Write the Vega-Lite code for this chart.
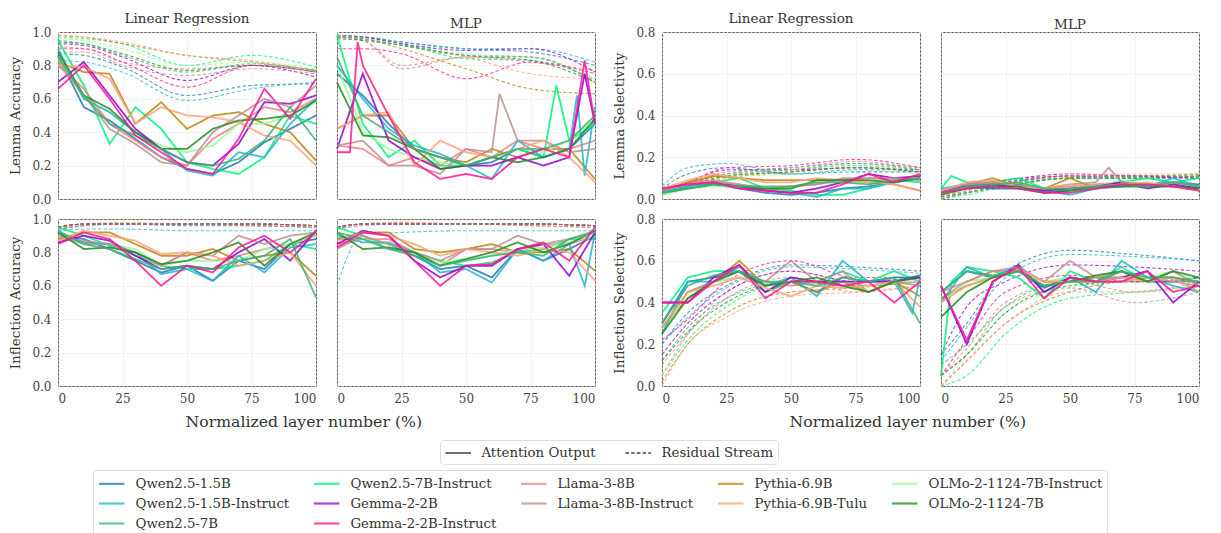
{
"$schema":"https://vega.github.io/schema/vega-lite/v6.json",
"padding":{"left":8,"top":11,"right":5,"bottom":5},
"config":{
 "font":"DejaVu Serif",
 "view":{"stroke":"#555","strokeWidth":1},
 "axis":{"grid":true,"gridColor":"#e3e3e3","gridDash":[2,2],"gridWidth":0.8,"domain":false,"ticks":false,"labelFontSize":12,"labelColor":"#444","labelPadding":7,"titleFontSize":13.5,"titleFontWeight":"normal","titleColor":"#333","titlePadding":9},
 "title":{"fontSize":13.5,"fontWeight":"normal","color":"#333","offset":1},
 "legend":{"labelFontSize":13.3,"labelColor":"#333","labelLimit":400,"symbolType":"M-1,0H2.4","symbolSize":225,"labelOffset":20,"strokeColor":"#ddd","cornerRadius":3,"padding":4.5},
 "range":{"category":["#1f77b4","#98fb98","#ffa07a","#00f27a","#1fb4d2","#228b22","#f08080","#9400d3","#3cb371","#b8860b","#bc8f8f","#ff1493"]}
},
"datasets":{
"la":[
{"m":"a","x":0,"y":0.86},{"m":"a","x":10,"y":0.55},{"m":"a","x":20,"y":0.47},{"m":"a","x":30,"y":0.36},{"m":"a","x":40,"y":0.25},{"m":"a","x":50,"y":0.18},{"m":"a","x":60,"y":0.15},{"m":"a","x":70,"y":0.22},{"m":"a","x":80,"y":0.34},{"m":"a","x":90,"y":0.42},{"m":"a","x":100,"y":0.5},
{"m":"b","x":0,"y":0.95},{"m":"b","x":10,"y":0.68},{"m":"b","x":20,"y":0.33},{"m":"b","x":30,"y":0.55},{"m":"b","x":40,"y":0.42},{"m":"b","x":50,"y":0.22},{"m":"b","x":60,"y":0.18},{"m":"b","x":70,"y":0.15},{"m":"b","x":80,"y":0.25},{"m":"b","x":90,"y":0.5},{"m":"b","x":100,"y":0.45},
{"m":"c","x":0,"y":0.8},{"m":"c","x":10,"y":0.66},{"m":"c","x":20,"y":0.45},{"m":"c","x":30,"y":0.35},{"m":"c","x":40,"y":0.25},{"m":"c","x":50,"y":0.2},{"m":"c","x":60,"y":0.36},{"m":"c","x":70,"y":0.45},{"m":"c","x":80,"y":0.55},{"m":"c","x":90,"y":0.52},{"m":"c","x":100,"y":0.6},
{"m":"d","x":0,"y":0.82},{"m":"d","x":10,"y":0.76},{"m":"d","x":20,"y":0.75},{"m":"d","x":30,"y":0.45},{"m":"d","x":40,"y":0.58},{"m":"d","x":50,"y":0.42},{"m":"d","x":60,"y":0.5},{"m":"d","x":70,"y":0.52},{"m":"d","x":80,"y":0.45},{"m":"d","x":90,"y":0.4},{"m":"d","x":100,"y":0.23},
{"m":"e","x":0,"y":0.85},{"m":"e","x":10,"y":0.6},{"m":"e","x":20,"y":0.52},{"m":"e","x":30,"y":0.4},{"m":"e","x":40,"y":0.32},{"m":"e","x":50,"y":0.28},{"m":"e","x":60,"y":0.32},{"m":"e","x":70,"y":0.45},{"m":"e","x":80,"y":0.45},{"m":"e","x":90,"y":0.5},{"m":"e","x":100,"y":0.58},
{"m":"f","x":0,"y":0.9},{"m":"f","x":10,"y":0.6},{"m":"f","x":20,"y":0.52},{"m":"f","x":30,"y":0.4},{"m":"f","x":40,"y":0.3},{"m":"f","x":50,"y":0.17},{"m":"f","x":60,"y":0.14},{"m":"f","x":70,"y":0.28},{"m":"f","x":80,"y":0.25},{"m":"f","x":90,"y":0.45},{"m":"f","x":100,"y":0.6},
{"m":"g","x":0,"y":0.7},{"m":"g","x":10,"y":0.82},{"m":"g","x":20,"y":0.62},{"m":"g","x":30,"y":0.42},{"m":"g","x":40,"y":0.3},{"m":"g","x":50,"y":0.22},{"m":"g","x":60,"y":0.2},{"m":"g","x":70,"y":0.33},{"m":"g","x":80,"y":0.58},{"m":"g","x":90,"y":0.57},{"m":"g","x":100,"y":0.62},
{"m":"h","x":0,"y":0.82},{"m":"h","x":10,"y":0.62},{"m":"h","x":20,"y":0.42},{"m":"h","x":30,"y":0.33},{"m":"h","x":40,"y":0.22},{"m":"h","x":50,"y":0.2},{"m":"h","x":60,"y":0.4},{"m":"h","x":70,"y":0.5},{"m":"h","x":80,"y":0.6},{"m":"h","x":90,"y":0.55},{"m":"h","x":100,"y":0.68},
{"m":"i","x":0,"y":0.8},{"m":"i","x":10,"y":0.79},{"m":"i","x":20,"y":0.72},{"m":"i","x":30,"y":0.45},{"m":"i","x":40,"y":0.55},{"m":"i","x":50,"y":0.5},{"m":"i","x":60,"y":0.49},{"m":"i","x":70,"y":0.46},{"m":"i","x":80,"y":0.38},{"m":"i","x":90,"y":0.35},{"m":"i","x":100,"y":0.2},
{"m":"j","x":0,"y":0.88},{"m":"j","x":10,"y":0.62},{"m":"j","x":20,"y":0.54},{"m":"j","x":30,"y":0.4},{"m":"j","x":40,"y":0.3},{"m":"j","x":50,"y":0.3},{"m":"j","x":60,"y":0.42},{"m":"j","x":70,"y":0.47},{"m":"j","x":80,"y":0.48},{"m":"j","x":90,"y":0.5},{"m":"j","x":100,"y":0.59},
{"m":"k","x":0,"y":0.85},{"m":"k","x":10,"y":0.62},{"m":"k","x":20,"y":0.45},{"m":"k","x":30,"y":0.38},{"m":"k","x":40,"y":0.3},{"m":"k","x":50,"y":0.22},{"m":"k","x":60,"y":0.2},{"m":"k","x":70,"y":0.24},{"m":"k","x":80,"y":0.35},{"m":"k","x":90,"y":0.55},{"m":"k","x":100,"y":0.35},
{"m":"l","x":0,"y":0.66},{"m":"l","x":10,"y":0.8},{"m":"l","x":20,"y":0.6},{"m":"l","x":30,"y":0.38},{"m":"l","x":40,"y":0.28},{"m":"l","x":50,"y":0.18},{"m":"l","x":60,"y":0.15},{"m":"l","x":70,"y":0.36},{"m":"l","x":80,"y":0.66},{"m":"l","x":90,"y":0.48},{"m":"l","x":100,"y":0.72}
],
"lad":[
{"m":"a","x":0,"y":0.87},{"m":"a","x":10,"y":0.86},{"m":"a","x":25,"y":0.79},{"m":"a","x":50,"y":0.62},{"m":"a","x":75,"y":0.68},{"m":"a","x":100,"y":0.69},
{"m":"b","x":0,"y":0.97},{"m":"b","x":10,"y":0.96},{"m":"b","x":25,"y":0.93},{"m":"b","x":50,"y":0.8},{"m":"b","x":75,"y":0.86},{"m":"b","x":100,"y":0.79},
{"m":"c","x":0,"y":0.91},{"m":"c","x":10,"y":0.9},{"m":"c","x":25,"y":0.82},{"m":"c","x":50,"y":0.78},{"m":"c","x":75,"y":0.8},{"m":"c","x":100,"y":0.77},
{"m":"d","x":0,"y":0.98},{"m":"d","x":10,"y":0.97},{"m":"d","x":25,"y":0.93},{"m":"d","x":50,"y":0.86},{"m":"d","x":75,"y":0.82},{"m":"d","x":100,"y":0.77},
{"m":"e","x":0,"y":0.96},{"m":"e","x":10,"y":0.95},{"m":"e","x":25,"y":0.9},{"m":"e","x":50,"y":0.8},{"m":"e","x":75,"y":0.82},{"m":"e","x":100,"y":0.78},
{"m":"f","x":0,"y":0.83},{"m":"f","x":10,"y":0.82},{"m":"f","x":25,"y":0.76},{"m":"f","x":50,"y":0.59},{"m":"f","x":75,"y":0.66},{"m":"f","x":100,"y":0.7},
{"m":"g","x":0,"y":0.93},{"m":"g","x":10,"y":0.92},{"m":"g","x":25,"y":0.85},{"m":"g","x":50,"y":0.71},{"m":"g","x":75,"y":0.8},{"m":"g","x":100,"y":0.73},
{"m":"h","x":0,"y":0.88},{"m":"h","x":10,"y":0.88},{"m":"h","x":25,"y":0.8},{"m":"h","x":50,"y":0.74},{"m":"h","x":75,"y":0.78},{"m":"h","x":100,"y":0.75},
{"m":"i","x":0,"y":0.98},{"m":"i","x":10,"y":0.97},{"m":"i","x":25,"y":0.94},{"m":"i","x":50,"y":0.86},{"m":"i","x":75,"y":0.83},{"m":"i","x":100,"y":0.76},
{"m":"j","x":0,"y":0.94},{"m":"j","x":10,"y":0.93},{"m":"j","x":25,"y":0.87},{"m":"j","x":50,"y":0.77},{"m":"j","x":75,"y":0.8},{"m":"j","x":100,"y":0.76},
{"m":"k","x":0,"y":0.95},{"m":"k","x":10,"y":0.93},{"m":"k","x":25,"y":0.86},{"m":"k","x":50,"y":0.76},{"m":"k","x":75,"y":0.81},{"m":"k","x":100,"y":0.77},
{"m":"l","x":0,"y":0.9},{"m":"l","x":10,"y":0.9},{"m":"l","x":25,"y":0.82},{"m":"l","x":50,"y":0.67},{"m":"l","x":75,"y":0.8},{"m":"l","x":100,"y":0.76}
],
"lm":[
{"m":"a","x":0,"y":0.75},{"m":"a","x":10,"y":0.62},{"m":"a","x":20,"y":0.45},{"m":"a","x":30,"y":0.3},{"m":"a","x":40,"y":0.25},{"m":"a","x":50,"y":0.2},{"m":"a","x":60,"y":0.22},{"m":"a","x":70,"y":0.3},{"m":"a","x":80,"y":0.25},{"m":"a","x":90,"y":0.3},{"m":"a","x":100,"y":0.45},
{"m":"b","x":0,"y":0.98},{"m":"b","x":10,"y":0.45},{"m":"b","x":20,"y":0.25},{"m":"b","x":30,"y":0.35},{"m":"b","x":40,"y":0.2},{"m":"b","x":50,"y":0.2},{"m":"b","x":60,"y":0.25},{"m":"b","x":70,"y":0.3},{"m":"b","x":80,"y":0.25},{"m":"b","x":85,"y":0.68},{"m":"b","x":90,"y":0.35},{"m":"b","x":100,"y":0.45},
{"m":"c","x":0,"y":0.32},{"m":"c","x":10,"y":0.3},{"m":"c","x":20,"y":0.2},{"m":"c","x":30,"y":0.25},{"m":"c","x":40,"y":0.2},{"m":"c","x":50,"y":0.3},{"m":"c","x":60,"y":0.25},{"m":"c","x":70,"y":0.35},{"m":"c","x":80,"y":0.3},{"m":"c","x":90,"y":0.3},{"m":"c","x":100,"y":0.35},
{"m":"d","x":0,"y":0.42},{"m":"d","x":10,"y":0.5},{"m":"d","x":20,"y":0.5},{"m":"d","x":30,"y":0.3},{"m":"d","x":40,"y":0.25},{"m":"d","x":50,"y":0.22},{"m":"d","x":60,"y":0.3},{"m":"d","x":70,"y":0.25},{"m":"d","x":80,"y":0.3},{"m":"d","x":90,"y":0.3},{"m":"d","x":100,"y":0.12},
{"m":"e","x":0,"y":0.8},{"m":"e","x":10,"y":0.4},{"m":"e","x":20,"y":0.3},{"m":"e","x":30,"y":0.25},{"m":"e","x":40,"y":0.22},{"m":"e","x":50,"y":0.2},{"m":"e","x":60,"y":0.25},{"m":"e","x":70,"y":0.3},{"m":"e","x":80,"y":0.28},{"m":"e","x":90,"y":0.35},{"m":"e","x":100,"y":0.48},
{"m":"f","x":0,"y":0.8},{"m":"f","x":10,"y":0.6},{"m":"f","x":20,"y":0.42},{"m":"f","x":30,"y":0.32},{"m":"f","x":40,"y":0.27},{"m":"f","x":50,"y":0.2},{"m":"f","x":60,"y":0.12},{"m":"f","x":70,"y":0.35},{"m":"f","x":80,"y":0.25},{"m":"f","x":90,"y":0.3},{"m":"f","x":93,"y":0.62},{"m":"f","x":96,"y":0.14},{"m":"f","x":100,"y":0.55},
{"m":"g","x":0,"y":0.3},{"m":"g","x":10,"y":0.75},{"m":"g","x":20,"y":0.35},{"m":"g","x":30,"y":0.25},{"m":"g","x":40,"y":0.18},{"m":"g","x":50,"y":0.2},{"m":"g","x":60,"y":0.2},{"m":"g","x":70,"y":0.25},{"m":"g","x":80,"y":0.2},{"m":"g","x":90,"y":0.25},{"m":"g","x":96,"y":0.75},{"m":"g","x":100,"y":0.45},
{"m":"h","x":0,"y":0.32},{"m":"h","x":10,"y":0.35},{"m":"h","x":20,"y":0.2},{"m":"h","x":30,"y":0.2},{"m":"h","x":40,"y":0.15},{"m":"h","x":50,"y":0.3},{"m":"h","x":60,"y":0.28},{"m":"h","x":63,"y":0.63},{"m":"h","x":70,"y":0.35},{"m":"h","x":80,"y":0.35},{"m":"h","x":90,"y":0.28},{"m":"h","x":100,"y":0.3},
{"m":"i","x":0,"y":0.42},{"m":"i","x":10,"y":0.5},{"m":"i","x":20,"y":0.52},{"m":"i","x":30,"y":0.2},{"m":"i","x":40,"y":0.35},{"m":"i","x":50,"y":0.28},{"m":"i","x":60,"y":0.25},{"m":"i","x":70,"y":0.3},{"m":"i","x":80,"y":0.35},{"m":"i","x":90,"y":0.25},{"m":"i","x":100,"y":0.1},
{"m":"j","x":0,"y":0.7},{"m":"j","x":10,"y":0.38},{"m":"j","x":20,"y":0.37},{"m":"j","x":30,"y":0.3},{"m":"j","x":40,"y":0.18},{"m":"j","x":50,"y":0.2},{"m":"j","x":60,"y":0.25},{"m":"j","x":70,"y":0.22},{"m":"j","x":80,"y":0.25},{"m":"j","x":90,"y":0.3},{"m":"j","x":100,"y":0.48},
{"m":"k","x":0,"y":0.85},{"m":"k","x":10,"y":0.5},{"m":"k","x":20,"y":0.4},{"m":"k","x":30,"y":0.3},{"m":"k","x":40,"y":0.25},{"m":"k","x":50,"y":0.2},{"m":"k","x":60,"y":0.25},{"m":"k","x":70,"y":0.3},{"m":"k","x":80,"y":0.3},{"m":"k","x":90,"y":0.35},{"m":"k","x":100,"y":0.5},
{"m":"l","x":0,"y":0.28},{"m":"l","x":5,"y":0.28},{"m":"l","x":8,"y":0.94},{"m":"l","x":10,"y":0.8},{"m":"l","x":20,"y":0.5},{"m":"l","x":30,"y":0.22},{"m":"l","x":40,"y":0.12},{"m":"l","x":50,"y":0.15},{"m":"l","x":60,"y":0.12},{"m":"l","x":70,"y":0.25},{"m":"l","x":80,"y":0.3},{"m":"l","x":90,"y":0.25},{"m":"l","x":96,"y":0.83},{"m":"l","x":100,"y":0.45}
],
"lmd":[
{"m":"a","x":0,"y":0.98},{"m":"a","x":10,"y":0.97},{"m":"a","x":25,"y":0.94},{"m":"a","x":50,"y":0.9},{"m":"a","x":75,"y":0.88},{"m":"a","x":100,"y":0.8},
{"m":"b","x":0,"y":0.98},{"m":"b","x":10,"y":0.97},{"m":"b","x":25,"y":0.93},{"m":"b","x":50,"y":0.84},{"m":"b","x":75,"y":0.83},{"m":"b","x":100,"y":0.72},
{"m":"c","x":0,"y":0.97},{"m":"c","x":10,"y":0.95},{"m":"c","x":25,"y":0.8},{"m":"c","x":50,"y":0.85},{"m":"c","x":75,"y":0.82},{"m":"c","x":100,"y":0.77},
{"m":"d","x":0,"y":0.97},{"m":"d","x":10,"y":0.96},{"m":"d","x":25,"y":0.9},{"m":"d","x":50,"y":0.78},{"m":"d","x":75,"y":0.66},{"m":"d","x":100,"y":0.63},
{"m":"e","x":0,"y":0.98},{"m":"e","x":10,"y":0.97},{"m":"e","x":25,"y":0.93},{"m":"e","x":50,"y":0.87},{"m":"e","x":75,"y":0.85},{"m":"e","x":100,"y":0.72},
{"m":"f","x":0,"y":0.97},{"m":"f","x":10,"y":0.97},{"m":"f","x":25,"y":0.94},{"m":"f","x":50,"y":0.9},{"m":"f","x":75,"y":0.9},{"m":"f","x":100,"y":0.82},
{"m":"g","x":0,"y":0.98},{"m":"g","x":10,"y":0.97},{"m":"g","x":25,"y":0.93},{"m":"g","x":50,"y":0.89},{"m":"g","x":75,"y":0.9},{"m":"g","x":100,"y":0.76},
{"m":"h","x":0,"y":0.97},{"m":"h","x":10,"y":0.95},{"m":"h","x":25,"y":0.78},{"m":"h","x":50,"y":0.85},{"m":"h","x":75,"y":0.85},{"m":"h","x":100,"y":0.7},
{"m":"i","x":0,"y":0.98},{"m":"i","x":10,"y":0.96},{"m":"i","x":25,"y":0.92},{"m":"i","x":50,"y":0.85},{"m":"i","x":75,"y":0.75},{"m":"i","x":100,"y":0.72},
{"m":"j","x":0,"y":0.96},{"m":"j","x":10,"y":0.95},{"m":"j","x":25,"y":0.92},{"m":"j","x":50,"y":0.86},{"m":"j","x":75,"y":0.83},{"m":"j","x":100,"y":0.7},
{"m":"k","x":0,"y":0.97},{"m":"k","x":10,"y":0.96},{"m":"k","x":25,"y":0.92},{"m":"k","x":50,"y":0.86},{"m":"k","x":75,"y":0.85},{"m":"k","x":100,"y":0.7},
{"m":"l","x":0,"y":0.9},{"m":"l","x":10,"y":0.9},{"m":"l","x":25,"y":0.87},{"m":"l","x":50,"y":0.72},{"m":"l","x":75,"y":0.82},{"m":"l","x":100,"y":0.75}
],
"ia":[
{"m":"a","x":0,"y":0.9},{"m":"a","x":10,"y":0.88},{"m":"a","x":20,"y":0.82},{"m":"a","x":30,"y":0.75},{"m":"a","x":40,"y":0.68},{"m":"a","x":50,"y":0.72},{"m":"a","x":60,"y":0.63},{"m":"a","x":70,"y":0.75},{"m":"a","x":80,"y":0.7},{"m":"a","x":90,"y":0.85},{"m":"a","x":100,"y":0.88},
{"m":"b","x":0,"y":0.95},{"m":"b","x":10,"y":0.9},{"m":"b","x":20,"y":0.84},{"m":"b","x":30,"y":0.78},{"m":"b","x":40,"y":0.72},{"m":"b","x":50,"y":0.7},{"m":"b","x":60,"y":0.7},{"m":"b","x":70,"y":0.72},{"m":"b","x":80,"y":0.75},{"m":"b","x":90,"y":0.85},{"m":"b","x":100,"y":0.82},
{"m":"c","x":0,"y":0.88},{"m":"c","x":10,"y":0.87},{"m":"c","x":20,"y":0.85},{"m":"c","x":30,"y":0.8},{"m":"c","x":40,"y":0.72},{"m":"c","x":50,"y":0.8},{"m":"c","x":60,"y":0.75},{"m":"c","x":70,"y":0.78},{"m":"c","x":80,"y":0.82},{"m":"c","x":90,"y":0.85},{"m":"c","x":100,"y":0.9},
{"m":"d","x":0,"y":0.88},{"m":"d","x":10,"y":0.92},{"m":"d","x":20,"y":0.92},{"m":"d","x":30,"y":0.85},{"m":"d","x":40,"y":0.78},{"m":"d","x":50,"y":0.78},{"m":"d","x":60,"y":0.82},{"m":"d","x":70,"y":0.75},{"m":"d","x":80,"y":0.78},{"m":"d","x":90,"y":0.8},{"m":"d","x":100,"y":0.66},
{"m":"e","x":0,"y":0.9},{"m":"e","x":10,"y":0.86},{"m":"e","x":20,"y":0.85},{"m":"e","x":30,"y":0.82},{"m":"e","x":40,"y":0.72},{"m":"e","x":50,"y":0.75},{"m":"e","x":60,"y":0.75},{"m":"e","x":70,"y":0.75},{"m":"e","x":80,"y":0.82},{"m":"e","x":90,"y":0.85},{"m":"e","x":100,"y":0.9},
{"m":"f","x":0,"y":0.92},{"m":"f","x":10,"y":0.86},{"m":"f","x":20,"y":0.85},{"m":"f","x":30,"y":0.8},{"m":"f","x":40,"y":0.67},{"m":"f","x":50,"y":0.7},{"m":"f","x":60,"y":0.63},{"m":"f","x":70,"y":0.78},{"m":"f","x":80,"y":0.68},{"m":"f","x":90,"y":0.83},{"m":"f","x":100,"y":0.85},
{"m":"g","x":0,"y":0.86},{"m":"g","x":10,"y":0.9},{"m":"g","x":20,"y":0.87},{"m":"g","x":30,"y":0.78},{"m":"g","x":40,"y":0.7},{"m":"g","x":50,"y":0.72},{"m":"g","x":60,"y":0.7},{"m":"g","x":70,"y":0.8},{"m":"g","x":80,"y":0.88},{"m":"g","x":90,"y":0.75},{"m":"g","x":100,"y":0.93},
{"m":"h","x":0,"y":0.9},{"m":"h","x":10,"y":0.85},{"m":"h","x":20,"y":0.85},{"m":"h","x":30,"y":0.8},{"m":"h","x":40,"y":0.72},{"m":"h","x":50,"y":0.8},{"m":"h","x":60,"y":0.78},{"m":"h","x":70,"y":0.9},{"m":"h","x":80,"y":0.85},{"m":"h","x":90,"y":0.9},{"m":"h","x":100,"y":0.92},
{"m":"i","x":0,"y":0.87},{"m":"i","x":10,"y":0.93},{"m":"i","x":20,"y":0.9},{"m":"i","x":30,"y":0.87},{"m":"i","x":40,"y":0.79},{"m":"i","x":50,"y":0.8},{"m":"i","x":60,"y":0.78},{"m":"i","x":70,"y":0.72},{"m":"i","x":80,"y":0.75},{"m":"i","x":90,"y":0.8},{"m":"i","x":100,"y":0.6},
{"m":"j","x":0,"y":0.92},{"m":"j","x":10,"y":0.82},{"m":"j","x":20,"y":0.83},{"m":"j","x":30,"y":0.8},{"m":"j","x":40,"y":0.73},{"m":"j","x":50,"y":0.75},{"m":"j","x":60,"y":0.8},{"m":"j","x":70,"y":0.86},{"m":"j","x":80,"y":0.72},{"m":"j","x":90,"y":0.85},{"m":"j","x":100,"y":0.92},
{"m":"k","x":0,"y":0.93},{"m":"k","x":10,"y":0.85},{"m":"k","x":20,"y":0.82},{"m":"k","x":30,"y":0.76},{"m":"k","x":40,"y":0.7},{"m":"k","x":50,"y":0.72},{"m":"k","x":60,"y":0.7},{"m":"k","x":70,"y":0.75},{"m":"k","x":80,"y":0.78},{"m":"k","x":90,"y":0.88},{"m":"k","x":100,"y":0.53},
{"m":"l","x":0,"y":0.85},{"m":"l","x":10,"y":0.92},{"m":"l","x":20,"y":0.88},{"m":"l","x":30,"y":0.75},{"m":"l","x":40,"y":0.6},{"m":"l","x":50,"y":0.72},{"m":"l","x":60,"y":0.68},{"m":"l","x":70,"y":0.83},{"m":"l","x":80,"y":0.9},{"m":"l","x":90,"y":0.8},{"m":"l","x":100,"y":0.92}
],
"iad":[
{"m":"a","x":0,"y":0.94},{"m":"a","x":10,"y":0.96},{"m":"a","x":25,"y":0.97},{"m":"a","x":50,"y":0.96},{"m":"a","x":75,"y":0.96},{"m":"a","x":100,"y":0.95},
{"m":"b","x":0,"y":0.95},{"m":"b","x":10,"y":0.97},{"m":"b","x":25,"y":0.97},{"m":"b","x":50,"y":0.97},{"m":"b","x":75,"y":0.97},{"m":"b","x":100,"y":0.96},
{"m":"c","x":0,"y":0.95},{"m":"c","x":10,"y":0.97},{"m":"c","x":25,"y":0.97},{"m":"c","x":50,"y":0.97},{"m":"c","x":75,"y":0.97},{"m":"c","x":100,"y":0.96},
{"m":"d","x":0,"y":0.94},{"m":"d","x":10,"y":0.96},{"m":"d","x":25,"y":0.97},{"m":"d","x":50,"y":0.97},{"m":"d","x":75,"y":0.96},{"m":"d","x":100,"y":0.95},
{"m":"e","x":0,"y":0.95},{"m":"e","x":10,"y":0.97},{"m":"e","x":25,"y":0.97},{"m":"e","x":50,"y":0.97},{"m":"e","x":75,"y":0.97},{"m":"e","x":100,"y":0.96},
{"m":"f","x":0,"y":0.93},{"m":"f","x":10,"y":0.94},{"m":"f","x":25,"y":0.94},{"m":"f","x":50,"y":0.93},{"m":"f","x":75,"y":0.93},{"m":"f","x":100,"y":0.93},
{"m":"g","x":0,"y":0.95},{"m":"g","x":10,"y":0.97},{"m":"g","x":25,"y":0.97},{"m":"g","x":50,"y":0.97},{"m":"g","x":75,"y":0.97},{"m":"g","x":100,"y":0.96},
{"m":"h","x":0,"y":0.94},{"m":"h","x":10,"y":0.96},{"m":"h","x":25,"y":0.97},{"m":"h","x":50,"y":0.97},{"m":"h","x":75,"y":0.96},{"m":"h","x":100,"y":0.95},
{"m":"i","x":0,"y":0.94},{"m":"i","x":10,"y":0.97},{"m":"i","x":25,"y":0.98},{"m":"i","x":50,"y":0.97},{"m":"i","x":75,"y":0.97},{"m":"i","x":100,"y":0.96},
{"m":"j","x":0,"y":0.95},{"m":"j","x":10,"y":0.97},{"m":"j","x":25,"y":0.97},{"m":"j","x":50,"y":0.97},{"m":"j","x":75,"y":0.97},{"m":"j","x":100,"y":0.96},
{"m":"k","x":0,"y":0.95},{"m":"k","x":10,"y":0.97},{"m":"k","x":25,"y":0.97},{"m":"k","x":50,"y":0.97},{"m":"k","x":75,"y":0.97},{"m":"k","x":100,"y":0.96},
{"m":"l","x":0,"y":0.95},{"m":"l","x":10,"y":0.97},{"m":"l","x":25,"y":0.97},{"m":"l","x":50,"y":0.97},{"m":"l","x":75,"y":0.97},{"m":"l","x":100,"y":0.96}
],
"im":[
{"m":"a","x":0,"y":0.88},{"m":"a","x":10,"y":0.88},{"m":"a","x":20,"y":0.85},{"m":"a","x":30,"y":0.78},{"m":"a","x":40,"y":0.7},{"m":"a","x":50,"y":0.72},{"m":"a","x":60,"y":0.65},{"m":"a","x":70,"y":0.82},{"m":"a","x":80,"y":0.75},{"m":"a","x":90,"y":0.82},{"m":"a","x":100,"y":0.9},
{"m":"b","x":0,"y":0.95},{"m":"b","x":10,"y":0.9},{"m":"b","x":20,"y":0.82},{"m":"b","x":30,"y":0.8},{"m":"b","x":40,"y":0.75},{"m":"b","x":50,"y":0.72},{"m":"b","x":60,"y":0.74},{"m":"b","x":70,"y":0.8},{"m":"b","x":80,"y":0.82},{"m":"b","x":90,"y":0.88},{"m":"b","x":100,"y":0.88},
{"m":"c","x":0,"y":0.85},{"m":"c","x":10,"y":0.88},{"m":"c","x":20,"y":0.88},{"m":"c","x":30,"y":0.8},{"m":"c","x":40,"y":0.72},{"m":"c","x":50,"y":0.82},{"m":"c","x":60,"y":0.82},{"m":"c","x":70,"y":0.8},{"m":"c","x":80,"y":0.85},{"m":"c","x":90,"y":0.85},{"m":"c","x":100,"y":0.9},
{"m":"d","x":0,"y":0.88},{"m":"d","x":10,"y":0.92},{"m":"d","x":20,"y":0.92},{"m":"d","x":30,"y":0.82},{"m":"d","x":40,"y":0.8},{"m":"d","x":50,"y":0.82},{"m":"d","x":60,"y":0.85},{"m":"d","x":70,"y":0.8},{"m":"d","x":80,"y":0.8},{"m":"d","x":90,"y":0.82},{"m":"d","x":100,"y":0.69},
{"m":"e","x":0,"y":0.9},{"m":"e","x":10,"y":0.88},{"m":"e","x":20,"y":0.85},{"m":"e","x":30,"y":0.8},{"m":"e","x":40,"y":0.74},{"m":"e","x":50,"y":0.76},{"m":"e","x":60,"y":0.78},{"m":"e","x":70,"y":0.82},{"m":"e","x":80,"y":0.83},{"m":"e","x":90,"y":0.86},{"m":"e","x":100,"y":0.9},
{"m":"f","x":0,"y":0.9},{"m":"f","x":10,"y":0.86},{"m":"f","x":20,"y":0.86},{"m":"f","x":30,"y":0.8},{"m":"f","x":40,"y":0.68},{"m":"f","x":50,"y":0.7},{"m":"f","x":60,"y":0.62},{"m":"f","x":70,"y":0.82},{"m":"f","x":80,"y":0.75},{"m":"f","x":90,"y":0.85},{"m":"f","x":96,"y":0.6},{"m":"f","x":100,"y":0.92},
{"m":"g","x":0,"y":0.85},{"m":"g","x":10,"y":0.93},{"m":"g","x":20,"y":0.9},{"m":"g","x":30,"y":0.75},{"m":"g","x":40,"y":0.65},{"m":"g","x":50,"y":0.72},{"m":"g","x":60,"y":0.72},{"m":"g","x":70,"y":0.82},{"m":"g","x":80,"y":0.85},{"m":"g","x":90,"y":0.66},{"m":"g","x":100,"y":0.92},
{"m":"h","x":0,"y":0.82},{"m":"h","x":10,"y":0.9},{"m":"h","x":20,"y":0.85},{"m":"h","x":30,"y":0.8},{"m":"h","x":40,"y":0.75},{"m":"h","x":50,"y":0.82},{"m":"h","x":60,"y":0.82},{"m":"h","x":70,"y":0.9},{"m":"h","x":80,"y":0.85},{"m":"h","x":90,"y":0.88},{"m":"h","x":100,"y":0.93},
{"m":"i","x":0,"y":0.87},{"m":"i","x":10,"y":0.92},{"m":"i","x":20,"y":0.9},{"m":"i","x":30,"y":0.85},{"m":"i","x":40,"y":0.78},{"m":"i","x":50,"y":0.82},{"m":"i","x":60,"y":0.8},{"m":"i","x":70,"y":0.78},{"m":"i","x":80,"y":0.82},{"m":"i","x":90,"y":0.8},{"m":"i","x":100,"y":0.63},
{"m":"j","x":0,"y":0.92},{"m":"j","x":10,"y":0.82},{"m":"j","x":20,"y":0.83},{"m":"j","x":30,"y":0.8},{"m":"j","x":40,"y":0.72},{"m":"j","x":50,"y":0.76},{"m":"j","x":60,"y":0.8},{"m":"j","x":70,"y":0.86},{"m":"j","x":80,"y":0.8},{"m":"j","x":90,"y":0.85},{"m":"j","x":100,"y":0.93},
{"m":"k","x":0,"y":0.92},{"m":"k","x":10,"y":0.88},{"m":"k","x":20,"y":0.82},{"m":"k","x":30,"y":0.78},{"m":"k","x":40,"y":0.72},{"m":"k","x":50,"y":0.75},{"m":"k","x":60,"y":0.78},{"m":"k","x":70,"y":0.8},{"m":"k","x":80,"y":0.78},{"m":"k","x":90,"y":0.88},{"m":"k","x":100,"y":0.92},
{"m":"l","x":0,"y":0.83},{"m":"l","x":10,"y":0.92},{"m":"l","x":20,"y":0.9},{"m":"l","x":30,"y":0.75},{"m":"l","x":40,"y":0.6},{"m":"l","x":50,"y":0.72},{"m":"l","x":60,"y":0.73},{"m":"l","x":70,"y":0.82},{"m":"l","x":80,"y":0.86},{"m":"l","x":90,"y":0.75},{"m":"l","x":100,"y":0.95}
],
"imd":[
{"m":"a","x":0,"y":0.94},{"m":"a","x":10,"y":0.97},{"m":"a","x":25,"y":0.97},{"m":"a","x":50,"y":0.97},{"m":"a","x":75,"y":0.97},{"m":"a","x":100,"y":0.96},
{"m":"b","x":0,"y":0.95},{"m":"b","x":10,"y":0.97},{"m":"b","x":25,"y":0.97},{"m":"b","x":50,"y":0.97},{"m":"b","x":75,"y":0.97},{"m":"b","x":100,"y":0.96},
{"m":"c","x":0,"y":0.95},{"m":"c","x":10,"y":0.97},{"m":"c","x":25,"y":0.98},{"m":"c","x":50,"y":0.97},{"m":"c","x":75,"y":0.97},{"m":"c","x":100,"y":0.96},
{"m":"d","x":0,"y":0.94},{"m":"d","x":10,"y":0.97},{"m":"d","x":25,"y":0.97},{"m":"d","x":50,"y":0.97},{"m":"d","x":75,"y":0.96},{"m":"d","x":100,"y":0.95},
{"m":"e","x":0,"y":0.95},{"m":"e","x":10,"y":0.97},{"m":"e","x":25,"y":0.97},{"m":"e","x":50,"y":0.97},{"m":"e","x":75,"y":0.97},{"m":"e","x":100,"y":0.96},
{"m":"f","x":0,"y":0.6},{"m":"f","x":10,"y":0.91},{"m":"f","x":25,"y":0.92},{"m":"f","x":50,"y":0.93},{"m":"f","x":75,"y":0.93},{"m":"f","x":100,"y":0.93},
{"m":"g","x":0,"y":0.95},{"m":"g","x":10,"y":0.97},{"m":"g","x":25,"y":0.97},{"m":"g","x":50,"y":0.97},{"m":"g","x":75,"y":0.97},{"m":"g","x":100,"y":0.96},
{"m":"h","x":0,"y":0.94},{"m":"h","x":10,"y":0.96},{"m":"h","x":25,"y":0.97},{"m":"h","x":50,"y":0.97},{"m":"h","x":75,"y":0.96},{"m":"h","x":100,"y":0.95},
{"m":"i","x":0,"y":0.95},{"m":"i","x":10,"y":0.97},{"m":"i","x":25,"y":0.98},{"m":"i","x":50,"y":0.97},{"m":"i","x":75,"y":0.97},{"m":"i","x":100,"y":0.96},
{"m":"j","x":0,"y":0.95},{"m":"j","x":10,"y":0.97},{"m":"j","x":25,"y":0.97},{"m":"j","x":50,"y":0.97},{"m":"j","x":75,"y":0.97},{"m":"j","x":100,"y":0.96},
{"m":"k","x":0,"y":0.95},{"m":"k","x":10,"y":0.97},{"m":"k","x":25,"y":0.97},{"m":"k","x":50,"y":0.97},{"m":"k","x":75,"y":0.97},{"m":"k","x":100,"y":0.96},
{"m":"l","x":0,"y":0.95},{"m":"l","x":10,"y":0.97},{"m":"l","x":25,"y":0.97},{"m":"l","x":50,"y":0.97},{"m":"l","x":75,"y":0.97},{"m":"l","x":100,"y":0.96}
],
"ls":[
{"m":"a","x":0,"y":0.05},{"m":"a","x":10,"y":0.07},{"m":"a","x":20,"y":0.07},{"m":"a","x":30,"y":0.05},{"m":"a","x":40,"y":0.03},{"m":"a","x":50,"y":0.02},{"m":"a","x":60,"y":0.03},{"m":"a","x":70,"y":0.05},{"m":"a","x":80,"y":0.06},{"m":"a","x":90,"y":0.08},{"m":"a","x":100,"y":0.1},
{"m":"b","x":0,"y":0.02},{"m":"b","x":10,"y":0.06},{"m":"b","x":20,"y":0.08},{"m":"b","x":30,"y":0.1},{"m":"b","x":40,"y":0.05},{"m":"b","x":50,"y":0.04},{"m":"b","x":60,"y":0.02},{"m":"b","x":70,"y":0.02},{"m":"b","x":80,"y":0.05},{"m":"b","x":90,"y":0.09},{"m":"b","x":100,"y":0.08},
{"m":"c","x":0,"y":0.04},{"m":"c","x":10,"y":0.08},{"m":"c","x":20,"y":0.09},{"m":"c","x":30,"y":0.07},{"m":"c","x":40,"y":0.05},{"m":"c","x":50,"y":0.06},{"m":"c","x":60,"y":0.07},{"m":"c","x":70,"y":0.09},{"m":"c","x":80,"y":0.1},{"m":"c","x":90,"y":0.09},{"m":"c","x":100,"y":0.1},
{"m":"d","x":0,"y":0.04},{"m":"d","x":10,"y":0.08},{"m":"d","x":20,"y":0.11},{"m":"d","x":30,"y":0.1},{"m":"d","x":40,"y":0.09},{"m":"d","x":50,"y":0.09},{"m":"d","x":60,"y":0.09},{"m":"d","x":70,"y":0.09},{"m":"d","x":80,"y":0.08},{"m":"d","x":90,"y":0.07},{"m":"d","x":100,"y":0.04},
{"m":"e","x":0,"y":0.02},{"m":"e","x":10,"y":0.05},{"m":"e","x":20,"y":0.06},{"m":"e","x":30,"y":0.06},{"m":"e","x":40,"y":0.05},{"m":"e","x":50,"y":0.06},{"m":"e","x":60,"y":0.08},{"m":"e","x":70,"y":0.08},{"m":"e","x":80,"y":0.08},{"m":"e","x":90,"y":0.09},{"m":"e","x":100,"y":0.1},
{"m":"f","x":0,"y":0.04},{"m":"f","x":10,"y":0.06},{"m":"f","x":20,"y":0.08},{"m":"f","x":30,"y":0.06},{"m":"f","x":40,"y":0.04},{"m":"f","x":50,"y":0.03},{"m":"f","x":60,"y":0.01},{"m":"f","x":70,"y":0.05},{"m":"f","x":80,"y":0.05},{"m":"f","x":90,"y":0.08},{"m":"f","x":100,"y":0.1},
{"m":"g","x":0,"y":0.05},{"m":"g","x":10,"y":0.07},{"m":"g","x":20,"y":0.08},{"m":"g","x":30,"y":0.06},{"m":"g","x":40,"y":0.04},{"m":"g","x":50,"y":0.03},{"m":"g","x":60,"y":0.05},{"m":"g","x":70,"y":0.08},{"m":"g","x":80,"y":0.12},{"m":"g","x":90,"y":0.1},{"m":"g","x":100,"y":0.11},
{"m":"h","x":0,"y":0.04},{"m":"h","x":10,"y":0.07},{"m":"h","x":20,"y":0.08},{"m":"h","x":30,"y":0.07},{"m":"h","x":40,"y":0.05},{"m":"h","x":50,"y":0.06},{"m":"h","x":60,"y":0.07},{"m":"h","x":70,"y":0.1},{"m":"h","x":80,"y":0.1},{"m":"h","x":90,"y":0.1},{"m":"h","x":100,"y":0.09},
{"m":"i","x":0,"y":0.05},{"m":"i","x":10,"y":0.09},{"m":"i","x":20,"y":0.12},{"m":"i","x":30,"y":0.1},{"m":"i","x":40,"y":0.08},{"m":"i","x":50,"y":0.08},{"m":"i","x":60,"y":0.1},{"m":"i","x":70,"y":0.09},{"m":"i","x":80,"y":0.08},{"m":"i","x":90,"y":0.07},{"m":"i","x":100,"y":0.04},
{"m":"j","x":0,"y":0.03},{"m":"j","x":10,"y":0.05},{"m":"j","x":20,"y":0.07},{"m":"j","x":30,"y":0.06},{"m":"j","x":40,"y":0.05},{"m":"j","x":50,"y":0.05},{"m":"j","x":60,"y":0.09},{"m":"j","x":70,"y":0.09},{"m":"j","x":80,"y":0.09},{"m":"j","x":90,"y":0.08},{"m":"j","x":100,"y":0.1},
{"m":"k","x":0,"y":0.03},{"m":"k","x":10,"y":0.05},{"m":"k","x":20,"y":0.07},{"m":"k","x":30,"y":0.06},{"m":"k","x":40,"y":0.06},{"m":"k","x":50,"y":0.06},{"m":"k","x":60,"y":0.08},{"m":"k","x":70,"y":0.08},{"m":"k","x":80,"y":0.07},{"m":"k","x":90,"y":0.09},{"m":"k","x":100,"y":0.1},
{"m":"l","x":0,"y":0.05},{"m":"l","x":10,"y":0.07},{"m":"l","x":20,"y":0.08},{"m":"l","x":30,"y":0.05},{"m":"l","x":40,"y":0.04},{"m":"l","x":50,"y":0.03},{"m":"l","x":60,"y":0.03},{"m":"l","x":70,"y":0.07},{"m":"l","x":80,"y":0.12},{"m":"l","x":90,"y":0.08},{"m":"l","x":100,"y":0.12}
],
"lsd":[
{"m":"a","x":0,"y":0.05},{"m":"a","x":10,"y":0.12},{"m":"a","x":25,"y":0.15},{"m":"a","x":50,"y":0.12},{"m":"a","x":75,"y":0.13},{"m":"a","x":100,"y":0.13},
{"m":"b","x":0,"y":0.02},{"m":"b","x":10,"y":0.06},{"m":"b","x":25,"y":0.11},{"m":"b","x":50,"y":0.14},{"m":"b","x":75,"y":0.16},{"m":"b","x":100,"y":0.14},
{"m":"c","x":0,"y":0.03},{"m":"c","x":10,"y":0.07},{"m":"c","x":25,"y":0.13},{"m":"c","x":50,"y":0.15},{"m":"c","x":75,"y":0.18},{"m":"c","x":100,"y":0.14},
{"m":"d","x":0,"y":0.02},{"m":"d","x":10,"y":0.06},{"m":"d","x":25,"y":0.1},{"m":"d","x":50,"y":0.13},{"m":"d","x":75,"y":0.15},{"m":"d","x":100,"y":0.14},
{"m":"e","x":0,"y":0.02},{"m":"e","x":10,"y":0.06},{"m":"e","x":25,"y":0.1},{"m":"e","x":50,"y":0.12},{"m":"e","x":75,"y":0.14},{"m":"e","x":100,"y":0.12},
{"m":"f","x":0,"y":0.06},{"m":"f","x":10,"y":0.15},{"m":"f","x":25,"y":0.17},{"m":"f","x":50,"y":0.12},{"m":"f","x":75,"y":0.14},{"m":"f","x":100,"y":0.14},
{"m":"g","x":0,"y":0.04},{"m":"g","x":10,"y":0.08},{"m":"g","x":25,"y":0.14},{"m":"g","x":50,"y":0.14},{"m":"g","x":75,"y":0.15},{"m":"g","x":100,"y":0.13},
{"m":"h","x":0,"y":0.03},{"m":"h","x":10,"y":0.07},{"m":"h","x":25,"y":0.12},{"m":"h","x":50,"y":0.14},{"m":"h","x":75,"y":0.17},{"m":"h","x":100,"y":0.14},
{"m":"i","x":0,"y":0.02},{"m":"i","x":10,"y":0.07},{"m":"i","x":25,"y":0.11},{"m":"i","x":50,"y":0.13},{"m":"i","x":75,"y":0.15},{"m":"i","x":100,"y":0.13},
{"m":"j","x":0,"y":0.02},{"m":"j","x":10,"y":0.06},{"m":"j","x":25,"y":0.11},{"m":"j","x":50,"y":0.13},{"m":"j","x":75,"y":0.15},{"m":"j","x":100,"y":0.13},
{"m":"k","x":0,"y":0.02},{"m":"k","x":10,"y":0.07},{"m":"k","x":25,"y":0.12},{"m":"k","x":50,"y":0.15},{"m":"k","x":75,"y":0.17},{"m":"k","x":100,"y":0.15},
{"m":"l","x":0,"y":0.04},{"m":"l","x":10,"y":0.08},{"m":"l","x":25,"y":0.15},{"m":"l","x":50,"y":0.16},{"m":"l","x":75,"y":0.19},{"m":"l","x":100,"y":0.15}
],
"lsm":[
{"m":"a","x":0,"y":0.04},{"m":"a","x":10,"y":0.06},{"m":"a","x":20,"y":0.05},{"m":"a","x":30,"y":0.05},{"m":"a","x":40,"y":0.03},{"m":"a","x":50,"y":0.04},{"m":"a","x":60,"y":0.05},{"m":"a","x":70,"y":0.06},{"m":"a","x":80,"y":0.07},{"m":"a","x":90,"y":0.08},{"m":"a","x":100,"y":0.07},
{"m":"b","x":0,"y":0.05},{"m":"b","x":4,"y":0.11},{"m":"b","x":10,"y":0.08},{"m":"b","x":20,"y":0.08},{"m":"b","x":30,"y":0.1},{"m":"b","x":40,"y":0.05},{"m":"b","x":50,"y":0.04},{"m":"b","x":60,"y":0.05},{"m":"b","x":70,"y":0.08},{"m":"b","x":80,"y":0.1},{"m":"b","x":90,"y":0.08},{"m":"b","x":100,"y":0.1},
{"m":"c","x":0,"y":0.04},{"m":"c","x":10,"y":0.07},{"m":"c","x":20,"y":0.08},{"m":"c","x":30,"y":0.07},{"m":"c","x":40,"y":0.05},{"m":"c","x":50,"y":0.06},{"m":"c","x":60,"y":0.07},{"m":"c","x":70,"y":0.08},{"m":"c","x":80,"y":0.07},{"m":"c","x":90,"y":0.06},{"m":"c","x":100,"y":0.05},
{"m":"d","x":0,"y":0.04},{"m":"d","x":10,"y":0.07},{"m":"d","x":20,"y":0.1},{"m":"d","x":30,"y":0.06},{"m":"d","x":40,"y":0.05},{"m":"d","x":50,"y":0.1},{"m":"d","x":60,"y":0.05},{"m":"d","x":70,"y":0.07},{"m":"d","x":80,"y":0.06},{"m":"d","x":90,"y":0.07},{"m":"d","x":100,"y":0.06},
{"m":"e","x":0,"y":0.03},{"m":"e","x":10,"y":0.06},{"m":"e","x":20,"y":0.07},{"m":"e","x":30,"y":0.06},{"m":"e","x":40,"y":0.05},{"m":"e","x":50,"y":0.05},{"m":"e","x":60,"y":0.06},{"m":"e","x":70,"y":0.09},{"m":"e","x":80,"y":0.07},{"m":"e","x":90,"y":0.07},{"m":"e","x":100,"y":0.06},
{"m":"f","x":0,"y":0.05},{"m":"f","x":10,"y":0.07},{"m":"f","x":20,"y":0.06},{"m":"f","x":30,"y":0.07},{"m":"f","x":40,"y":0.04},{"m":"f","x":50,"y":0.02},{"m":"f","x":60,"y":0.05},{"m":"f","x":70,"y":0.08},{"m":"f","x":80,"y":0.06},{"m":"f","x":90,"y":0.1},{"m":"f","x":100,"y":0.06},
{"m":"g","x":0,"y":0.04},{"m":"g","x":10,"y":0.06},{"m":"g","x":20,"y":0.07},{"m":"g","x":30,"y":0.06},{"m":"g","x":40,"y":0.04},{"m":"g","x":50,"y":0.05},{"m":"g","x":60,"y":0.06},{"m":"g","x":70,"y":0.08},{"m":"g","x":80,"y":0.05},{"m":"g","x":90,"y":0.07},{"m":"g","x":100,"y":0.05},
{"m":"h","x":0,"y":0.04},{"m":"h","x":10,"y":0.07},{"m":"h","x":20,"y":0.08},{"m":"h","x":30,"y":0.06},{"m":"h","x":40,"y":0.05},{"m":"h","x":50,"y":0.07},{"m":"h","x":60,"y":0.08},{"m":"h","x":65,"y":0.15},{"m":"h","x":70,"y":0.08},{"m":"h","x":80,"y":0.07},{"m":"h","x":90,"y":0.08},{"m":"h","x":100,"y":0.06},
{"m":"i","x":0,"y":0.04},{"m":"i","x":10,"y":0.08},{"m":"i","x":20,"y":0.09},{"m":"i","x":30,"y":0.06},{"m":"i","x":40,"y":0.05},{"m":"i","x":50,"y":0.07},{"m":"i","x":60,"y":0.06},{"m":"i","x":70,"y":0.07},{"m":"i","x":80,"y":0.08},{"m":"i","x":90,"y":0.06},{"m":"i","x":100,"y":0.04},
{"m":"j","x":0,"y":0.02},{"m":"j","x":10,"y":0.05},{"m":"j","x":20,"y":0.06},{"m":"j","x":30,"y":0.06},{"m":"j","x":40,"y":0.03},{"m":"j","x":50,"y":0.04},{"m":"j","x":60,"y":0.06},{"m":"j","x":70,"y":0.06},{"m":"j","x":80,"y":0.06},{"m":"j","x":90,"y":0.06},{"m":"j","x":100,"y":0.05},
{"m":"k","x":0,"y":0.03},{"m":"k","x":10,"y":0.06},{"m":"k","x":20,"y":0.07},{"m":"k","x":30,"y":0.08},{"m":"k","x":40,"y":0.05},{"m":"k","x":50,"y":0.05},{"m":"k","x":60,"y":0.06},{"m":"k","x":70,"y":0.07},{"m":"k","x":80,"y":0.06},{"m":"k","x":90,"y":0.08},{"m":"k","x":100,"y":0.06},
{"m":"l","x":0,"y":0.03},{"m":"l","x":10,"y":0.05},{"m":"l","x":20,"y":0.06},{"m":"l","x":30,"y":0.05},{"m":"l","x":40,"y":0.03},{"m":"l","x":50,"y":0.03},{"m":"l","x":60,"y":0.05},{"m":"l","x":70,"y":0.07},{"m":"l","x":80,"y":0.07},{"m":"l","x":90,"y":0.06},{"m":"l","x":100,"y":0.04}
],
"lsmd":[
{"m":"a","x":0,"y":0.04},{"m":"a","x":10,"y":0.06},{"m":"a","x":25,"y":0.09},{"m":"a","x":50,"y":0.11},{"m":"a","x":75,"y":0.1},{"m":"a","x":100,"y":0.1},
{"m":"b","x":0,"y":0.0},{"m":"b","x":10,"y":0.02},{"m":"b","x":25,"y":0.06},{"m":"b","x":50,"y":0.1},{"m":"b","x":75,"y":0.1},{"m":"b","x":100,"y":0.12},
{"m":"c","x":0,"y":0.01},{"m":"c","x":10,"y":0.04},{"m":"c","x":25,"y":0.08},{"m":"c","x":50,"y":0.11},{"m":"c","x":75,"y":0.11},{"m":"c","x":100,"y":0.11},
{"m":"d","x":0,"y":0.0},{"m":"d","x":10,"y":0.03},{"m":"d","x":25,"y":0.07},{"m":"d","x":50,"y":0.11},{"m":"d","x":75,"y":0.11},{"m":"d","x":100,"y":0.12},
{"m":"e","x":0,"y":0.0},{"m":"e","x":10,"y":0.03},{"m":"e","x":25,"y":0.06},{"m":"e","x":50,"y":0.1},{"m":"e","x":75,"y":0.1},{"m":"e","x":100,"y":0.11},
{"m":"f","x":0,"y":0.03},{"m":"f","x":10,"y":0.05},{"m":"f","x":25,"y":0.08},{"m":"f","x":50,"y":0.1},{"m":"f","x":75,"y":0.1},{"m":"f","x":100,"y":0.11},
{"m":"g","x":0,"y":0.03},{"m":"g","x":10,"y":0.06},{"m":"g","x":25,"y":0.09},{"m":"g","x":50,"y":0.12},{"m":"g","x":75,"y":0.11},{"m":"g","x":100,"y":0.1},
{"m":"h","x":0,"y":0.01},{"m":"h","x":10,"y":0.04},{"m":"h","x":25,"y":0.07},{"m":"h","x":50,"y":0.1},{"m":"h","x":75,"y":0.11},{"m":"h","x":100,"y":0.1},
{"m":"i","x":0,"y":0.0},{"m":"i","x":10,"y":0.03},{"m":"i","x":25,"y":0.07},{"m":"i","x":50,"y":0.11},{"m":"i","x":75,"y":0.12},{"m":"i","x":100,"y":0.12},
{"m":"j","x":0,"y":0.01},{"m":"j","x":10,"y":0.03},{"m":"j","x":25,"y":0.06},{"m":"j","x":50,"y":0.1},{"m":"j","x":75,"y":0.1},{"m":"j","x":100,"y":0.11},
{"m":"k","x":0,"y":0.0},{"m":"k","x":10,"y":0.03},{"m":"k","x":25,"y":0.07},{"m":"k","x":50,"y":0.1},{"m":"k","x":75,"y":0.11},{"m":"k","x":100,"y":0.11},
{"m":"l","x":0,"y":0.02},{"m":"l","x":10,"y":0.05},{"m":"l","x":25,"y":0.08},{"m":"l","x":50,"y":0.11},{"m":"l","x":75,"y":0.11},{"m":"l","x":100,"y":0.1}
],
"is":[
{"m":"a","x":0,"y":0.3},{"m":"a","x":10,"y":0.5},{"m":"a","x":20,"y":0.52},{"m":"a","x":30,"y":0.55},{"m":"a","x":40,"y":0.45},{"m":"a","x":50,"y":0.5},{"m":"a","x":60,"y":0.45},{"m":"a","x":70,"y":0.52},{"m":"a","x":80,"y":0.5},{"m":"a","x":90,"y":0.52},{"m":"a","x":100,"y":0.52},
{"m":"b","x":0,"y":0.35},{"m":"b","x":10,"y":0.52},{"m":"b","x":20,"y":0.55},{"m":"b","x":30,"y":0.55},{"m":"b","x":40,"y":0.45},{"m":"b","x":50,"y":0.5},{"m":"b","x":60,"y":0.5},{"m":"b","x":70,"y":0.55},{"m":"b","x":80,"y":0.5},{"m":"b","x":90,"y":0.55},{"m":"b","x":100,"y":0.5},
{"m":"c","x":0,"y":0.28},{"m":"c","x":10,"y":0.45},{"m":"c","x":20,"y":0.5},{"m":"c","x":30,"y":0.52},{"m":"c","x":40,"y":0.5},{"m":"c","x":50,"y":0.48},{"m":"c","x":60,"y":0.5},{"m":"c","x":70,"y":0.5},{"m":"c","x":80,"y":0.48},{"m":"c","x":90,"y":0.5},{"m":"c","x":100,"y":0.5},
{"m":"d","x":0,"y":0.28},{"m":"d","x":10,"y":0.42},{"m":"d","x":20,"y":0.5},{"m":"d","x":30,"y":0.6},{"m":"d","x":40,"y":0.48},{"m":"d","x":50,"y":0.5},{"m":"d","x":60,"y":0.45},{"m":"d","x":70,"y":0.5},{"m":"d","x":80,"y":0.45},{"m":"d","x":90,"y":0.5},{"m":"d","x":100,"y":0.43},
{"m":"e","x":0,"y":0.25},{"m":"e","x":10,"y":0.45},{"m":"e","x":20,"y":0.5},{"m":"e","x":30,"y":0.52},{"m":"e","x":40,"y":0.48},{"m":"e","x":50,"y":0.5},{"m":"e","x":60,"y":0.48},{"m":"e","x":70,"y":0.5},{"m":"e","x":80,"y":0.48},{"m":"e","x":90,"y":0.5},{"m":"e","x":100,"y":0.5},
{"m":"f","x":0,"y":0.25},{"m":"f","x":10,"y":0.5},{"m":"f","x":20,"y":0.5},{"m":"f","x":30,"y":0.57},{"m":"f","x":40,"y":0.48},{"m":"f","x":50,"y":0.52},{"m":"f","x":60,"y":0.43},{"m":"f","x":70,"y":0.6},{"m":"f","x":80,"y":0.5},{"m":"f","x":90,"y":0.5},{"m":"f","x":97,"y":0.35},{"m":"f","x":100,"y":0.52},
{"m":"g","x":0,"y":0.4},{"m":"g","x":10,"y":0.4},{"m":"g","x":20,"y":0.52},{"m":"g","x":30,"y":0.58},{"m":"g","x":40,"y":0.45},{"m":"g","x":50,"y":0.52},{"m":"g","x":60,"y":0.5},{"m":"g","x":70,"y":0.5},{"m":"g","x":80,"y":0.5},{"m":"g","x":90,"y":0.5},{"m":"g","x":100,"y":0.52},
{"m":"h","x":0,"y":0.28},{"m":"h","x":10,"y":0.45},{"m":"h","x":20,"y":0.5},{"m":"h","x":30,"y":0.55},{"m":"h","x":40,"y":0.5},{"m":"h","x":50,"y":0.6},{"m":"h","x":60,"y":0.5},{"m":"h","x":70,"y":0.55},{"m":"h","x":80,"y":0.45},{"m":"h","x":90,"y":0.5},{"m":"h","x":100,"y":0.48},
{"m":"i","x":0,"y":0.28},{"m":"i","x":10,"y":0.45},{"m":"i","x":20,"y":0.48},{"m":"i","x":30,"y":0.52},{"m":"i","x":40,"y":0.47},{"m":"i","x":50,"y":0.43},{"m":"i","x":60,"y":0.48},{"m":"i","x":70,"y":0.47},{"m":"i","x":80,"y":0.48},{"m":"i","x":90,"y":0.5},{"m":"i","x":100,"y":0.38},
{"m":"j","x":0,"y":0.25},{"m":"j","x":10,"y":0.42},{"m":"j","x":20,"y":0.5},{"m":"j","x":30,"y":0.55},{"m":"j","x":40,"y":0.48},{"m":"j","x":50,"y":0.5},{"m":"j","x":60,"y":0.52},{"m":"j","x":70,"y":0.48},{"m":"j","x":80,"y":0.45},{"m":"j","x":90,"y":0.5},{"m":"j","x":100,"y":0.53},
{"m":"k","x":0,"y":0.3},{"m":"k","x":10,"y":0.48},{"m":"k","x":20,"y":0.53},{"m":"k","x":30,"y":0.55},{"m":"k","x":40,"y":0.5},{"m":"k","x":50,"y":0.5},{"m":"k","x":60,"y":0.48},{"m":"k","x":70,"y":0.52},{"m":"k","x":80,"y":0.5},{"m":"k","x":90,"y":0.52},{"m":"k","x":100,"y":0.3},
{"m":"l","x":0,"y":0.4},{"m":"l","x":10,"y":0.4},{"m":"l","x":20,"y":0.5},{"m":"l","x":30,"y":0.58},{"m":"l","x":40,"y":0.42},{"m":"l","x":50,"y":0.5},{"m":"l","x":60,"y":0.5},{"m":"l","x":70,"y":0.48},{"m":"l","x":80,"y":0.5},{"m":"l","x":90,"y":0.4},{"m":"l","x":100,"y":0.5}
],
"isd":[
{"m":"a","x":0,"y":0.2},{"m":"a","x":10,"y":0.35},{"m":"a","x":25,"y":0.48},{"m":"a","x":50,"y":0.58},{"m":"a","x":75,"y":0.57},{"m":"a","x":100,"y":0.55},
{"m":"b","x":0,"y":0.05},{"m":"b","x":10,"y":0.22},{"m":"b","x":25,"y":0.38},{"m":"b","x":50,"y":0.5},{"m":"b","x":75,"y":0.48},{"m":"b","x":100,"y":0.5},
{"m":"c","x":0,"y":0.05},{"m":"c","x":10,"y":0.25},{"m":"c","x":25,"y":0.45},{"m":"c","x":50,"y":0.55},{"m":"c","x":75,"y":0.5},{"m":"c","x":100,"y":0.5},
{"m":"d","x":0,"y":0.02},{"m":"d","x":10,"y":0.2},{"m":"d","x":25,"y":0.35},{"m":"d","x":50,"y":0.45},{"m":"d","x":75,"y":0.47},{"m":"d","x":100,"y":0.5},
{"m":"e","x":0,"y":0.05},{"m":"e","x":10,"y":0.22},{"m":"e","x":25,"y":0.38},{"m":"e","x":50,"y":0.5},{"m":"e","x":75,"y":0.48},{"m":"e","x":100,"y":0.5},
{"m":"f","x":0,"y":0.2},{"m":"f","x":10,"y":0.33},{"m":"f","x":25,"y":0.47},{"m":"f","x":50,"y":0.57},{"m":"f","x":75,"y":0.56},{"m":"f","x":100,"y":0.54},
{"m":"g","x":0,"y":0.15},{"m":"g","x":10,"y":0.3},{"m":"g","x":25,"y":0.45},{"m":"g","x":50,"y":0.55},{"m":"g","x":75,"y":0.5},{"m":"g","x":100,"y":0.52},
{"m":"h","x":0,"y":0.1},{"m":"h","x":10,"y":0.25},{"m":"h","x":25,"y":0.42},{"m":"h","x":50,"y":0.52},{"m":"h","x":75,"y":0.45},{"m":"h","x":100,"y":0.48},
{"m":"i","x":0,"y":0.0},{"m":"i","x":10,"y":0.2},{"m":"i","x":25,"y":0.33},{"m":"i","x":50,"y":0.43},{"m":"i","x":75,"y":0.45},{"m":"i","x":100,"y":0.48},
{"m":"j","x":0,"y":0.12},{"m":"j","x":10,"y":0.26},{"m":"j","x":25,"y":0.4},{"m":"j","x":50,"y":0.5},{"m":"j","x":75,"y":0.48},{"m":"j","x":100,"y":0.5},
{"m":"k","x":0,"y":0.12},{"m":"k","x":10,"y":0.28},{"m":"k","x":25,"y":0.42},{"m":"k","x":50,"y":0.5},{"m":"k","x":75,"y":0.5},{"m":"k","x":100,"y":0.52},
{"m":"l","x":0,"y":0.22},{"m":"l","x":10,"y":0.32},{"m":"l","x":25,"y":0.5},{"m":"l","x":50,"y":0.6},{"m":"l","x":75,"y":0.52},{"m":"l","x":100,"y":0.52}
],
"ism":[
{"m":"a","x":0,"y":0.45},{"m":"a","x":10,"y":0.55},{"m":"a","x":20,"y":0.52},{"m":"a","x":30,"y":0.55},{"m":"a","x":40,"y":0.47},{"m":"a","x":50,"y":0.52},{"m":"a","x":60,"y":0.5},{"m":"a","x":70,"y":0.55},{"m":"a","x":80,"y":0.5},{"m":"a","x":90,"y":0.5},{"m":"a","x":100,"y":0.52},
{"m":"b","x":0,"y":0.05},{"m":"b","x":4,"y":0.5},{"m":"b","x":10,"y":0.57},{"m":"b","x":20,"y":0.55},{"m":"b","x":30,"y":0.52},{"m":"b","x":40,"y":0.42},{"m":"b","x":50,"y":0.55},{"m":"b","x":60,"y":0.5},{"m":"b","x":70,"y":0.57},{"m":"b","x":80,"y":0.5},{"m":"b","x":90,"y":0.52},{"m":"b","x":100,"y":0.45},
{"m":"c","x":0,"y":0.42},{"m":"c","x":10,"y":0.5},{"m":"c","x":20,"y":0.55},{"m":"c","x":30,"y":0.55},{"m":"c","x":40,"y":0.5},{"m":"c","x":50,"y":0.5},{"m":"c","x":60,"y":0.5},{"m":"c","x":70,"y":0.5},{"m":"c","x":80,"y":0.52},{"m":"c","x":90,"y":0.5},{"m":"c","x":100,"y":0.48},
{"m":"d","x":0,"y":0.42},{"m":"d","x":10,"y":0.48},{"m":"d","x":20,"y":0.52},{"m":"d","x":30,"y":0.55},{"m":"d","x":40,"y":0.5},{"m":"d","x":50,"y":0.5},{"m":"d","x":60,"y":0.52},{"m":"d","x":70,"y":0.52},{"m":"d","x":80,"y":0.52},{"m":"d","x":90,"y":0.52},{"m":"d","x":100,"y":0.5},
{"m":"e","x":0,"y":0.4},{"m":"e","x":10,"y":0.5},{"m":"e","x":20,"y":0.52},{"m":"e","x":30,"y":0.55},{"m":"e","x":40,"y":0.5},{"m":"e","x":50,"y":0.52},{"m":"e","x":60,"y":0.5},{"m":"e","x":70,"y":0.52},{"m":"e","x":80,"y":0.52},{"m":"e","x":90,"y":0.55},{"m":"e","x":100,"y":0.5},
{"m":"f","x":0,"y":0.4},{"m":"f","x":10,"y":0.57},{"m":"f","x":20,"y":0.52},{"m":"f","x":30,"y":0.58},{"m":"f","x":40,"y":0.45},{"m":"f","x":50,"y":0.52},{"m":"f","x":60,"y":0.45},{"m":"f","x":70,"y":0.6},{"m":"f","x":80,"y":0.52},{"m":"f","x":90,"y":0.48},{"m":"f","x":100,"y":0.45},
{"m":"g","x":0,"y":0.48},{"m":"g","x":10,"y":0.2},{"m":"g","x":20,"y":0.5},{"m":"g","x":30,"y":0.58},{"m":"g","x":40,"y":0.45},{"m":"g","x":50,"y":0.52},{"m":"g","x":60,"y":0.5},{"m":"g","x":70,"y":0.52},{"m":"g","x":80,"y":0.55},{"m":"g","x":90,"y":0.4},{"m":"g","x":100,"y":0.5},
{"m":"h","x":0,"y":0.45},{"m":"h","x":10,"y":0.5},{"m":"h","x":20,"y":0.55},{"m":"h","x":30,"y":0.57},{"m":"h","x":40,"y":0.5},{"m":"h","x":50,"y":0.6},{"m":"h","x":60,"y":0.52},{"m":"h","x":70,"y":0.55},{"m":"h","x":80,"y":0.5},{"m":"h","x":90,"y":0.55},{"m":"h","x":100,"y":0.48},
{"m":"i","x":0,"y":0.4},{"m":"i","x":10,"y":0.48},{"m":"i","x":20,"y":0.52},{"m":"i","x":30,"y":0.56},{"m":"i","x":40,"y":0.5},{"m":"i","x":50,"y":0.5},{"m":"i","x":60,"y":0.5},{"m":"i","x":70,"y":0.52},{"m":"i","x":80,"y":0.5},{"m":"i","x":90,"y":0.52},{"m":"i","x":100,"y":0.45},
{"m":"j","x":0,"y":0.33},{"m":"j","x":10,"y":0.45},{"m":"j","x":20,"y":0.52},{"m":"j","x":30,"y":0.55},{"m":"j","x":40,"y":0.48},{"m":"j","x":50,"y":0.5},{"m":"j","x":60,"y":0.53},{"m":"j","x":70,"y":0.55},{"m":"j","x":80,"y":0.5},{"m":"j","x":90,"y":0.55},{"m":"j","x":100,"y":0.52},
{"m":"k","x":0,"y":0.45},{"m":"k","x":10,"y":0.55},{"m":"k","x":20,"y":0.53},{"m":"k","x":30,"y":0.55},{"m":"k","x":40,"y":0.48},{"m":"k","x":50,"y":0.5},{"m":"k","x":60,"y":0.5},{"m":"k","x":70,"y":0.55},{"m":"k","x":80,"y":0.52},{"m":"k","x":90,"y":0.52},{"m":"k","x":100,"y":0.5},
{"m":"l","x":0,"y":0.48},{"m":"l","x":10,"y":0.22},{"m":"l","x":20,"y":0.5},{"m":"l","x":30,"y":0.57},{"m":"l","x":40,"y":0.42},{"m":"l","x":50,"y":0.52},{"m":"l","x":60,"y":0.5},{"m":"l","x":70,"y":0.5},{"m":"l","x":80,"y":0.55},{"m":"l","x":90,"y":0.45},{"m":"l","x":100,"y":0.48}
],
"ismd":[
{"m":"a","x":0,"y":0.15},{"m":"a","x":10,"y":0.3},{"m":"a","x":25,"y":0.55},{"m":"a","x":50,"y":0.65},{"m":"a","x":75,"y":0.63},{"m":"a","x":100,"y":0.6},
{"m":"b","x":0,"y":0.0},{"m":"b","x":10,"y":0.05},{"m":"b","x":25,"y":0.25},{"m":"b","x":50,"y":0.42},{"m":"b","x":75,"y":0.45},{"m":"b","x":100,"y":0.48},
{"m":"c","x":0,"y":0.05},{"m":"c","x":10,"y":0.18},{"m":"c","x":25,"y":0.4},{"m":"c","x":50,"y":0.5},{"m":"c","x":75,"y":0.45},{"m":"c","x":100,"y":0.5},
{"m":"d","x":0,"y":0.0},{"m":"d","x":10,"y":0.12},{"m":"d","x":25,"y":0.3},{"m":"d","x":50,"y":0.45},{"m":"d","x":75,"y":0.5},{"m":"d","x":100,"y":0.5},
{"m":"e","x":0,"y":0.0},{"m":"e","x":10,"y":0.15},{"m":"e","x":25,"y":0.35},{"m":"e","x":50,"y":0.47},{"m":"e","x":75,"y":0.5},{"m":"e","x":100,"y":0.5},
{"m":"f","x":0,"y":0.12},{"m":"f","x":10,"y":0.28},{"m":"f","x":25,"y":0.52},{"m":"f","x":50,"y":0.63},{"m":"f","x":75,"y":0.62},{"m":"f","x":100,"y":0.6},
{"m":"g","x":0,"y":0.15},{"m":"g","x":10,"y":0.38},{"m":"g","x":25,"y":0.5},{"m":"g","x":50,"y":0.58},{"m":"g","x":75,"y":0.57},{"m":"g","x":100,"y":0.55},
{"m":"h","x":0,"y":0.05},{"m":"h","x":10,"y":0.15},{"m":"h","x":25,"y":0.38},{"m":"h","x":50,"y":0.47},{"m":"h","x":75,"y":0.4},{"m":"h","x":100,"y":0.45},
{"m":"i","x":0,"y":0.0},{"m":"i","x":10,"y":0.12},{"m":"i","x":25,"y":0.3},{"m":"i","x":50,"y":0.45},{"m":"i","x":75,"y":0.45},{"m":"i","x":100,"y":0.48},
{"m":"j","x":0,"y":0.05},{"m":"j","x":10,"y":0.15},{"m":"j","x":25,"y":0.35},{"m":"j","x":50,"y":0.48},{"m":"j","x":75,"y":0.5},{"m":"j","x":100,"y":0.5},
{"m":"k","x":0,"y":0.1},{"m":"k","x":10,"y":0.2},{"m":"k","x":25,"y":0.38},{"m":"k","x":50,"y":0.5},{"m":"k","x":75,"y":0.5},{"m":"k","x":100,"y":0.5},
{"m":"l","x":0,"y":0.05},{"m":"l","x":10,"y":0.22},{"m":"l","x":25,"y":0.45},{"m":"l","x":50,"y":0.53},{"m":"l","x":75,"y":0.5},{"m":"l","x":100,"y":0.52}
]
},
"hconcat":[
{"concat":[
  {"width":258,"height":167,"title":"Linear Regression","layer":[
   {"data":{"name":"lad"},"mark":{"type":"line","strokeWidth":1.1,"opacity":0.75,"interpolate":"monotone"},"encoding":{
    "x":{"field":"x","type":"quantitative","scale":{"domain":[0,100],"nice":false},"axis":{"values":[0,25,50,75,100],"labels":false,"title":null}},
    "y":{"field":"y","type":"quantitative","scale":{"domain":[0,1]},"axis":{"values":[0,0.2,0.4,0.6,0.8,1],"format":".1f","title":"Lemma Accuracy"}},
    "color":{"field":"m","type":"nominal","scale":{"domain":["a","e","i","b","f","j","c","g","k","d","h","l"]}},
    "strokeDash":{"datum":"Residual Stream","type":"nominal","scale":{"domain":["Attention Output","Residual Stream"],"range":[[1,0],[3.5,2.2]]},"legend":{"orient":"none","legendX":382,"legendY":408,"direction":"horizontal","title":null,"symbolStrokeColor":"#000","symbolStrokeWidth":1.5,"columnPadding":26}}}},
   {"data":{"name":"la"},"mark":{"type":"line","strokeWidth":1.8,"opacity":0.85},"encoding":{
    "x":{"field":"x","type":"quantitative","scale":{"domain":[0,100],"nice":false},"axis":{"values":[0,25,50,75,100],"labels":false,"title":null}},
    "y":{"field":"y","type":"quantitative","scale":{"domain":[0,1]},"axis":{"values":[0,0.2,0.4,0.6,0.8,1],"format":".1f","title":"Lemma Accuracy"}},
    "color":{"field":"m","type":"nominal","scale":{"domain":["a","e","i","b","f","j","c","g","k","d","h","l"]},"legend":{"orient":"none","legendX":35,"legendY":438,"columns":5,"columnPadding":20,"rowPadding":4,"title":null,"symbolStrokeWidth":2.2,"labelExpr":"['Qwen2.5-1.5B','Qwen2.5-7B-Instruct','Llama-3-8B','Pythia-6.9B','OLMo-2-1124-7B-Instruct','Qwen2.5-1.5B-Instruct','Gemma-2-2B','Llama-3-8B-Instruct','Pythia-6.9B-Tulu','OLMo-2-1124-7B','Qwen2.5-7B','Gemma-2-2B-Instruct'][indexof('abcdefghijkl',datum.value)]"}},
    "strokeDash":{"datum":"Attention Output","type":"nominal","scale":{"domain":["Attention Output","Residual Stream"],"range":[[1,0],[3.5,2.2]]}}}}
  ]},
  {"width":258,"height":167,"title":"MLP","layer":[
   {"data":{"name":"lmd"},"mark":{"type":"line","strokeWidth":1.1,"opacity":0.75,"interpolate":"monotone"},"encoding":{
    "x":{"field":"x","type":"quantitative","scale":{"domain":[0,100],"nice":false},"axis":{"values":[0,25,50,75,100],"labels":false,"title":null}},
    "y":{"field":"y","type":"quantitative","scale":{"domain":[0,1]},"axis":{"values":[0,0.2,0.4,0.6,0.8,1],"labels":false,"title":null}},
    "color":{"field":"m","type":"nominal","scale":{"domain":["a","e","i","b","f","j","c","g","k","d","h","l"]}},"strokeDash":{"datum":"Residual Stream","type":"nominal","scale":{"domain":["Attention Output","Residual Stream"],"range":[[1,0],[3.5,2.2]]}}}},
   {"data":{"name":"lm"},"mark":{"type":"line","strokeWidth":1.8,"opacity":0.85},"encoding":{
    "x":{"field":"x","type":"quantitative","scale":{"domain":[0,100],"nice":false},"axis":{"values":[0,25,50,75,100],"labels":false,"title":null}},
    "y":{"field":"y","type":"quantitative","scale":{"domain":[0,1]},"axis":{"values":[0,0.2,0.4,0.6,0.8,1],"labels":false,"title":null}},
    "color":{"field":"m","type":"nominal","scale":{"domain":["a","e","i","b","f","j","c","g","k","d","h","l"]}},"strokeDash":{"datum":"Attention Output","type":"nominal","scale":{"domain":["Attention Output","Residual Stream"],"range":[[1,0],[3.5,2.2]]}}}}
  ]},
  {"width":258,"height":167,"layer":[
   {"data":{"name":"iad"},"mark":{"type":"line","strokeWidth":1.1,"opacity":0.75,"interpolate":"monotone"},"encoding":{
    "x":{"field":"x","type":"quantitative","scale":{"domain":[0,100],"nice":false},"axis":{"values":[0,25,50,75,100],"title":null}},
    "y":{"field":"y","type":"quantitative","scale":{"domain":[0,1]},"axis":{"values":[0,0.2,0.4,0.6,0.8,1],"format":".1f","title":"Inflection Accuracy"}},
    "color":{"field":"m","type":"nominal","scale":{"domain":["a","e","i","b","f","j","c","g","k","d","h","l"]}},"strokeDash":{"datum":"Residual Stream","type":"nominal","scale":{"domain":["Attention Output","Residual Stream"],"range":[[1,0],[3.5,2.2]]}}}},
   {"data":{"name":"ia"},"mark":{"type":"line","strokeWidth":1.8,"opacity":0.85},"encoding":{
    "x":{"field":"x","type":"quantitative","scale":{"domain":[0,100],"nice":false},"axis":{"values":[0,25,50,75,100],"title":null}},
    "y":{"field":"y","type":"quantitative","scale":{"domain":[0,1]},"axis":{"values":[0,0.2,0.4,0.6,0.8,1],"format":".1f","title":"Inflection Accuracy"}},
    "color":{"field":"m","type":"nominal","scale":{"domain":["a","e","i","b","f","j","c","g","k","d","h","l"]}},"strokeDash":{"datum":"Attention Output","type":"nominal","scale":{"domain":["Attention Output","Residual Stream"],"range":[[1,0],[3.5,2.2]]}}}}
  ]},
  {"width":258,"height":167,"layer":[
   {"data":{"name":"imd"},"mark":{"type":"line","strokeWidth":1.1,"opacity":0.75,"interpolate":"monotone"},"encoding":{
    "x":{"field":"x","type":"quantitative","scale":{"domain":[0,100],"nice":false},"axis":{"values":[0,25,50,75,100],"title":null}},
    "y":{"field":"y","type":"quantitative","scale":{"domain":[0,1]},"axis":{"values":[0,0.2,0.4,0.6,0.8,1],"labels":false,"title":null}},
    "color":{"field":"m","type":"nominal","scale":{"domain":["a","e","i","b","f","j","c","g","k","d","h","l"]}},"strokeDash":{"datum":"Residual Stream","type":"nominal","scale":{"domain":["Attention Output","Residual Stream"],"range":[[1,0],[3.5,2.2]]}}}},
   {"data":{"name":"im"},"mark":{"type":"line","strokeWidth":1.8,"opacity":0.85},"encoding":{
    "x":{"field":"x","type":"quantitative","scale":{"domain":[0,100],"nice":false},"axis":{"values":[0,25,50,75,100],"title":null}},
    "y":{"field":"y","type":"quantitative","scale":{"domain":[0,1]},"axis":{"values":[0,0.2,0.4,0.6,0.8,1],"labels":false,"title":null}},
    "color":{"field":"m","type":"nominal","scale":{"domain":["a","e","i","b","f","j","c","g","k","d","h","l"]}},"strokeDash":{"datum":"Attention Output","type":"nominal","scale":{"domain":["Attention Output","Residual Stream"],"range":[[1,0],[3.5,2.2]]}}}}
  ]}
],"columns":2,"bounds":"flush","spacing":{"row":20,"column":21},"title":{"text":"Normalized layer number (%)","orient":"bottom","anchor":"middle","fontSize":15.7,"offset":10}},
{"concat":[
  {"width":258,"height":167,"title":"Linear Regression","layer":[
   {"data":{"name":"lsd"},"mark":{"type":"line","strokeWidth":1.1,"opacity":0.75,"interpolate":"monotone"},"encoding":{
    "x":{"field":"x","type":"quantitative","scale":{"domain":[0,100],"nice":false},"axis":{"values":[0,25,50,75,100],"labels":false,"title":null}},
    "y":{"field":"y","type":"quantitative","scale":{"domain":[0,0.8]},"axis":{"values":[0,0.2,0.4,0.6,0.8],"format":".1f","title":"Lemma Selectivity"}},
    "color":{"field":"m","type":"nominal","scale":{"domain":["a","e","i","b","f","j","c","g","k","d","h","l"]}},"strokeDash":{"datum":"Residual Stream","type":"nominal","scale":{"domain":["Attention Output","Residual Stream"],"range":[[1,0],[3.5,2.2]]}}}},
   {"data":{"name":"ls"},"mark":{"type":"line","strokeWidth":1.8,"opacity":0.85},"encoding":{
    "x":{"field":"x","type":"quantitative","scale":{"domain":[0,100],"nice":false},"axis":{"values":[0,25,50,75,100],"labels":false,"title":null}},
    "y":{"field":"y","type":"quantitative","scale":{"domain":[0,0.8]},"axis":{"values":[0,0.2,0.4,0.6,0.8],"format":".1f","title":"Lemma Selectivity"}},
    "color":{"field":"m","type":"nominal","scale":{"domain":["a","e","i","b","f","j","c","g","k","d","h","l"]}},"strokeDash":{"datum":"Attention Output","type":"nominal","scale":{"domain":["Attention Output","Residual Stream"],"range":[[1,0],[3.5,2.2]]}}}}
  ]},
  {"width":258,"height":167,"title":"MLP","layer":[
   {"data":{"name":"lsmd"},"mark":{"type":"line","strokeWidth":1.1,"opacity":0.75,"interpolate":"monotone"},"encoding":{
    "x":{"field":"x","type":"quantitative","scale":{"domain":[0,100],"nice":false},"axis":{"values":[0,25,50,75,100],"labels":false,"title":null}},
    "y":{"field":"y","type":"quantitative","scale":{"domain":[0,0.8]},"axis":{"values":[0,0.2,0.4,0.6,0.8],"labels":false,"title":null}},
    "color":{"field":"m","type":"nominal","scale":{"domain":["a","e","i","b","f","j","c","g","k","d","h","l"]}},"strokeDash":{"datum":"Residual Stream","type":"nominal","scale":{"domain":["Attention Output","Residual Stream"],"range":[[1,0],[3.5,2.2]]}}}},
   {"data":{"name":"lsm"},"mark":{"type":"line","strokeWidth":1.8,"opacity":0.85},"encoding":{
    "x":{"field":"x","type":"quantitative","scale":{"domain":[0,100],"nice":false},"axis":{"values":[0,25,50,75,100],"labels":false,"title":null}},
    "y":{"field":"y","type":"quantitative","scale":{"domain":[0,0.8]},"axis":{"values":[0,0.2,0.4,0.6,0.8],"labels":false,"title":null}},
    "color":{"field":"m","type":"nominal","scale":{"domain":["a","e","i","b","f","j","c","g","k","d","h","l"]}},"strokeDash":{"datum":"Attention Output","type":"nominal","scale":{"domain":["Attention Output","Residual Stream"],"range":[[1,0],[3.5,2.2]]}}}}
  ]},
  {"width":258,"height":167,"layer":[
   {"data":{"name":"isd"},"mark":{"type":"line","strokeWidth":1.1,"opacity":0.75,"interpolate":"monotone"},"encoding":{
    "x":{"field":"x","type":"quantitative","scale":{"domain":[0,100],"nice":false},"axis":{"values":[0,25,50,75,100],"title":null}},
    "y":{"field":"y","type":"quantitative","scale":{"domain":[0,0.8]},"axis":{"values":[0,0.2,0.4,0.6,0.8],"format":".1f","title":"Inflection Selectivity"}},
    "color":{"field":"m","type":"nominal","scale":{"domain":["a","e","i","b","f","j","c","g","k","d","h","l"]}},"strokeDash":{"datum":"Residual Stream","type":"nominal","scale":{"domain":["Attention Output","Residual Stream"],"range":[[1,0],[3.5,2.2]]}}}},
   {"data":{"name":"is"},"mark":{"type":"line","strokeWidth":1.8,"opacity":0.85},"encoding":{
    "x":{"field":"x","type":"quantitative","scale":{"domain":[0,100],"nice":false},"axis":{"values":[0,25,50,75,100],"title":null}},
    "y":{"field":"y","type":"quantitative","scale":{"domain":[0,0.8]},"axis":{"values":[0,0.2,0.4,0.6,0.8],"format":".1f","title":"Inflection Selectivity"}},
    "color":{"field":"m","type":"nominal","scale":{"domain":["a","e","i","b","f","j","c","g","k","d","h","l"]}},"strokeDash":{"datum":"Attention Output","type":"nominal","scale":{"domain":["Attention Output","Residual Stream"],"range":[[1,0],[3.5,2.2]]}}}}
  ]},
  {"width":258,"height":167,"layer":[
   {"data":{"name":"ismd"},"mark":{"type":"line","strokeWidth":1.1,"opacity":0.75,"interpolate":"monotone"},"encoding":{
    "x":{"field":"x","type":"quantitative","scale":{"domain":[0,100],"nice":false},"axis":{"values":[0,25,50,75,100],"title":null}},
    "y":{"field":"y","type":"quantitative","scale":{"domain":[0,0.8]},"axis":{"values":[0,0.2,0.4,0.6,0.8],"labels":false,"title":null}},
    "color":{"field":"m","type":"nominal","scale":{"domain":["a","e","i","b","f","j","c","g","k","d","h","l"]}},"strokeDash":{"datum":"Residual Stream","type":"nominal","scale":{"domain":["Attention Output","Residual Stream"],"range":[[1,0],[3.5,2.2]]}}}},
   {"data":{"name":"ism"},"mark":{"type":"line","strokeWidth":1.8,"opacity":0.85},"encoding":{
    "x":{"field":"x","type":"quantitative","scale":{"domain":[0,100],"nice":false},"axis":{"values":[0,25,50,75,100],"title":null}},
    "y":{"field":"y","type":"quantitative","scale":{"domain":[0,0.8]},"axis":{"values":[0,0.2,0.4,0.6,0.8],"labels":false,"title":null}},
    "color":{"field":"m","type":"nominal","scale":{"domain":["a","e","i","b","f","j","c","g","k","d","h","l"]}},"strokeDash":{"datum":"Attention Output","type":"nominal","scale":{"domain":["Attention Output","Residual Stream"],"range":[[1,0],[3.5,2.2]]}}}}
  ]}
],"columns":2,"bounds":"flush","spacing":{"row":20,"column":21},"title":{"text":"Normalized layer number (%)","orient":"bottom","anchor":"middle","fontSize":15.7,"offset":10}}
],
"spacing":12
}
